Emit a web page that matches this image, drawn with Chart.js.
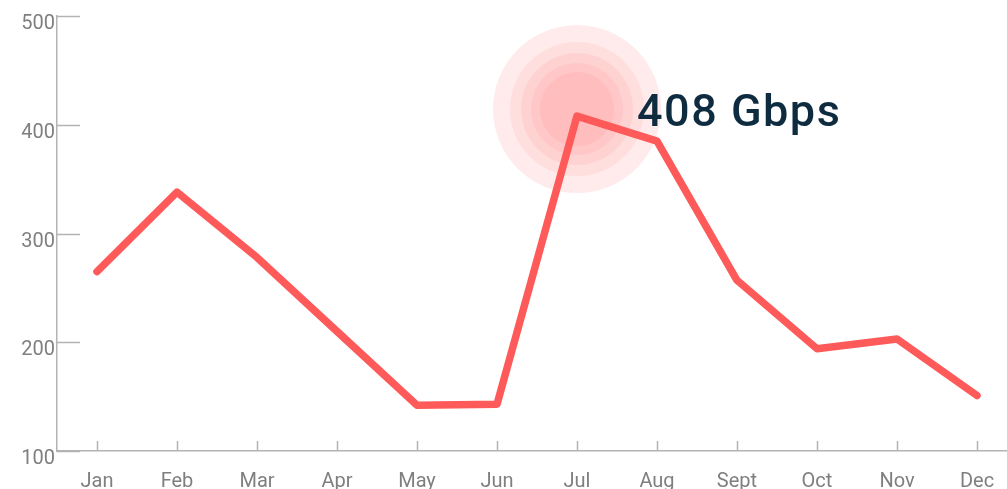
<!DOCTYPE html>
<html>
<head>
<meta charset="utf-8">
<script src="https://cdn.jsdelivr.net/npm/chart.js@4.4.0/dist/chart.umd.min.js"></script>
<style>
  html, body { margin: 0; padding: 0; background: #fff; overflow: hidden; }
  #wrap { width: 1007px; height: 489px; overflow: hidden; position: relative; }
  #box { width: 1017px; height: 489px; position: absolute; left: 0; top: 0; }
</style>
</head>
<body>
<div id="wrap"><div id="box"><canvas id="traffic"></canvas></div></div>
<script>
// --- datos ---
const months = ['Jan', 'Feb', 'Mar', 'Apr', 'May', 'Jun', 'Jul', 'Aug', 'Sept', 'Oct', 'Nov', 'Dec'];
const gbps = [265, 338, 278, 210, 142, 143, 408, 385, 257, 194, 203, 151];
const yTicks = [100, 200, 300, 400, 500];
const peakUnit = 'Gbps';

const LINE = '#ff5a5a';
const AXIS = '#b3b3b3';
const LABEL = '#7f7f7f';
const FONT = "Roboto, 'DejaVu Sans', sans-serif";

// glow + etiqueta del pico, e indicadores de ticks hacia dentro
const peakIdx = gbps.indexOf(Math.max(...gbps));

const glowPlugin = {
    id: 'glow',
    beforeDatasetsDraw(chart) {
        const { ctx, scales } = chart;
        const cx = scales.x.getPixelForValue(peakIdx);
        const cy = scales.y.getPixelForValue(gbps[peakIdx]) - 7;
        ctx.save();
        [84, 67, 56, 46, 37].forEach((r, i) => {
            ctx.beginPath();
            ctx.arc(cx, cy, r, 0, Math.PI * 2);
            ctx.fillStyle = i === 0 ? 'rgba(255, 90, 90, 0.12)' : 'rgba(255, 90, 90, 0.09)';
            ctx.fill();
        });
        ctx.restore();
    },
    afterDraw(chart) {
        const { ctx, scales, chartArea } = chart;
        ctx.save();
        ctx.strokeStyle = AXIS;
        ctx.lineWidth = 1.5;
        // ticks del eje y, hacia la derecha
        scales.y.ticks.forEach((t, i) => {
            const y = Math.round(scales.y.getPixelForTick(i)) + 0.5;
            ctx.beginPath();
            ctx.moveTo(chartArea.left, y);
            ctx.lineTo(chartArea.left + 23, y);
            ctx.stroke();
        });
        // ticks del eje x, hacia arriba
        scales.x.ticks.forEach((t, i) => {
            const x = Math.round(scales.x.getPixelForTick(i)) + 0.5;
            ctx.beginPath();
            ctx.moveTo(x, chartArea.bottom);
            ctx.lineTo(x, chartArea.bottom - 10);
            ctx.stroke();
        });
        // etiqueta del pico
        const px = scales.x.getPixelForValue(peakIdx);
        const py = scales.y.getPixelForValue(gbps[peakIdx]);
        ctx.fillStyle = '#0e2b40';
        ctx.font = `500 45px ${FONT}`;
        ctx.letterSpacing = '1.5px';
        ctx.textAlign = 'left';
        ctx.textBaseline = 'alphabetic';
        ctx.fillText(`${gbps[peakIdx]} ${peakUnit}`, px + 60, py + 10);
        ctx.restore();
    }
};

new Chart(document.getElementById('traffic'), {
    type: 'line',
    data: {
        labels: months,
        datasets: [{
            data: gbps,
            borderColor: LINE,
            borderWidth: 7.5,
            borderCapStyle: 'round',
            borderJoinStyle: 'round',
            pointRadius: 0,
            pointHoverRadius: 0,
            tension: 0,
            fill: false
        }]
    },
    options: {
        responsive: true,
        maintainAspectRatio: false,
        animation: false,
        events: [],
        layout: { padding: { top: 16, right: 0, bottom: 0, left: 0 } },
        plugins: { legend: { display: false }, tooltip: { enabled: false } },
        scales: {
            x: {
                offset: true,
                grid: { display: false, drawTicks: false },
                border: { display: true, color: AXIS, width: 1.5 },
                ticks: { color: LABEL, font: { family: FONT, size: 20 }, padding: 19, maxRotation: 0, autoSkip: false },
                afterFit(scale) { scale.height = 38; }
            },
            y: {
                min: 100,
                max: 500,
                afterBuildTicks(scale) { scale.ticks = yTicks.map(v => ({ value: v })); },
                grid: { display: false, drawTicks: false },
                border: { display: true, color: AXIS, width: 1.5 },
                ticks: { color: LABEL, font: { family: FONT, size: 20 }, padding: 2, labelOffset: 8 },
                afterFit(scale) { scale.width = 57; }
            }
        }
    },
    plugins: [glowPlugin]
});
</script>
</body>
</html>
